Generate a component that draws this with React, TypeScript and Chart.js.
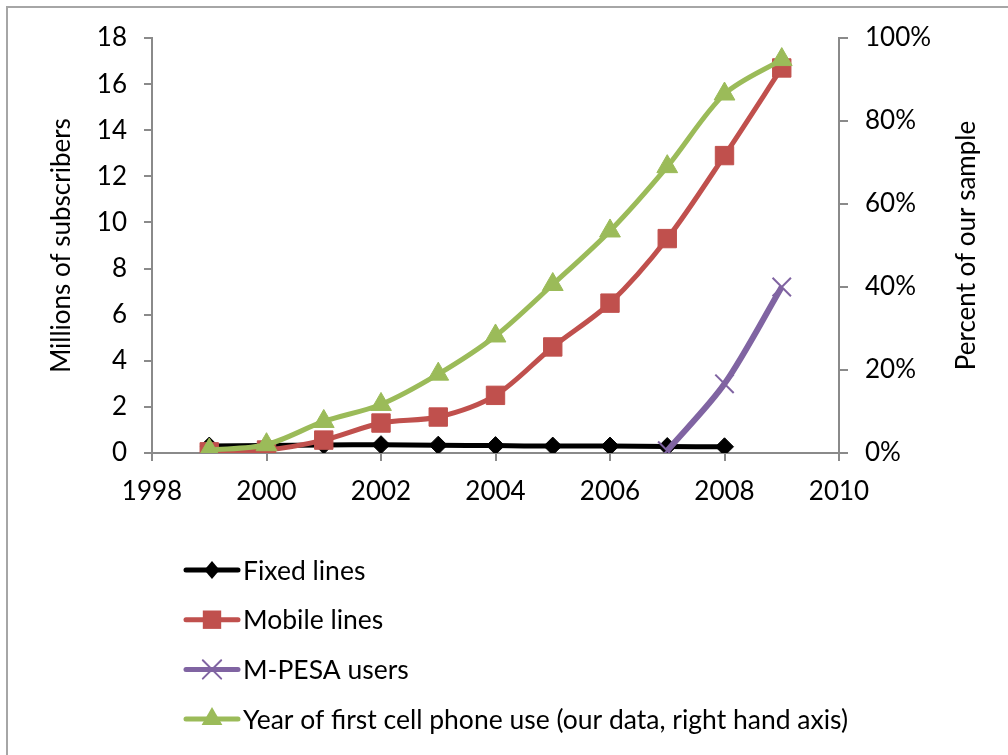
import React, { useEffect, useRef } from "react";
import { Chart, registerables } from "chart.js";

Chart.register(...registerables);

// ---- data ----
const fixedYears = [1999, 2000, 2001, 2002, 2003, 2004, 2005, 2006, 2007, 2008];
const fixedLines = [0.3, 0.32, 0.35, 0.36, 0.34, 0.32, 0.3, 0.3, 0.28, 0.27];

const mobileYears = [1999, 2000, 2001, 2002, 2003, 2004, 2005, 2006, 2007, 2008, 2009];
const mobileLines = [0.05, 0.13, 0.56, 1.3, 1.56, 2.5, 4.6, 6.5, 9.3, 12.9, 16.7];

const mpesaYears = [2007, 2008, 2009];
const mpesaUsers = [0.1, 3.0, 7.2];

const firstUseYears = [1999, 2000, 2001, 2002, 2003, 2004, 2005, 2006, 2007, 2008, 2009];
const firstUsePct = [0.7, 2, 7.6, 11.7, 19, 28.2, 40.6, 53.5, 69, 86.5, 94.8];

const seriesLabels = [
  "Fixed lines",
  "Mobile lines",
  "M-PESA users",
  "Year of first cell phone use (our data, right hand axis)",
];
const leftTitle = "Millions of subscribers";
const rightTitle = "Percent of our sample";

const FONT = "Lato";
const AXIS = "#8a8a8a";

function pts(xs: number[], ys: number[]) {
  return xs.map((x, i) => ({ x, y: ys[i] }));
}

function drawMarker(ctx: CanvasRenderingContext2D, style: string, x: number, y: number, r: number, fill: string, stroke: string) {
  ctx.save();
  ctx.fillStyle = fill;
  ctx.strokeStyle = stroke;
  ctx.beginPath();
  if (style === "rectRot") {
    ctx.moveTo(x, y - r);
    ctx.lineTo(x + r * 0.85, y);
    ctx.lineTo(x, y + r);
    ctx.lineTo(x - r * 0.85, y);
    ctx.closePath();
    ctx.fill();
  } else if (style === "rect") {
    const s = r * Math.SQRT1_2;
    ctx.rect(x - s, y - s, 2 * s, 2 * s);
    ctx.fill();
  } else if (style === "triangle") {
    ctx.moveTo(x, y - r);
    ctx.lineTo(x + r * 0.866, y + r * 0.5);
    ctx.lineTo(x - r * 0.866, y + r * 0.5);
    ctx.closePath();
    ctx.fill();
  } else if (style === "crossRot") {
    const d = r * Math.SQRT1_2;
    ctx.lineWidth = 2;
    ctx.moveTo(x - d, y - d);
    ctx.lineTo(x + d, y + d);
    ctx.moveTo(x + d, y - d);
    ctx.lineTo(x - d, y + d);
    ctx.stroke();
  }
  ctx.restore();
}

const decorPlugin = {
  id: "decor",
  beforeDraw(chart: any) {
    const ctx = chart.ctx as CanvasRenderingContext2D;
    ctx.save();
    ctx.fillStyle = "#ffffff";
    ctx.fillRect(0, 0, chart.width, chart.height);
    ctx.strokeStyle = "#a6a6a6";
    ctx.lineWidth = 2;
    ctx.beginPath();
    ctx.moveTo(7, chart.height + 5);
    ctx.lineTo(7, 7);
    ctx.lineTo(chart.width + 5, 7);
    ctx.stroke();
    ctx.restore();
  },
  afterDraw(chart: any) {
    const ctx = chart.ctx as CanvasRenderingContext2D;
    const area = chart.chartArea;
    const midY = (area.top + area.bottom) / 2;
    ctx.save();
    ctx.fillStyle = "#000";
    ctx.font = `26px ${FONT}`;
    ctx.textAlign = "center";
    ctx.textBaseline = "middle";
    // left title
    ctx.save();
    ctx.translate(62, midY);
    ctx.rotate(-Math.PI / 2);
    ctx.fillText(leftTitle, 0, 0);
    ctx.restore();
    // right title
    ctx.save();
    ctx.translate(967, midY);
    ctx.rotate(-Math.PI / 2);
    ctx.fillText(rightTitle, 0, 0);
    ctx.restore();

    // legend
    chart.data.datasets.forEach((ds: any, i: number) => {
      const y = 570 + i * 49.7;
      ctx.strokeStyle = ds.borderColor;
      ctx.lineWidth = 5;
      ctx.lineCap = "round";
      ctx.beginPath();
      ctx.moveTo(186, y);
      ctx.lineTo(238, y);
      ctx.stroke();
      drawMarker(ctx, ds.pointStyle, 212, y, ds.pointRadius, ds.pointBackgroundColor, ds.pointBorderColor);
      ctx.fillStyle = "#000";
      ctx.font = `26.5px ${FONT}`;
      ctx.textAlign = "left";
      ctx.textBaseline = "middle";
      ctx.fillText(ds.label, 243, y + 1);
    });
    ctx.restore();
  },
};

export default function App() {
  const ref = useRef<HTMLCanvasElement | null>(null);

  useEffect(() => {
    if (!ref.current) return;
    const tickFont = { family: FONT, size: 26 };
    const chart = new Chart(ref.current, {
      type: "line",
      data: {
        datasets: [
          {
            label: seriesLabels[0],
            data: pts(fixedYears, fixedLines),
            yAxisID: "y",
            borderColor: "#000000",
            backgroundColor: "#000000",
            pointBackgroundColor: "#000000",
            pointBorderColor: "#000000",
            pointStyle: "rectRot",
            pointRadius: 9,
            pointBorderWidth: 1,
            borderWidth: 5,
            tension: 0.3,
            order: 3,
          },
          {
            label: seriesLabels[1],
            data: pts(mobileYears, mobileLines),
            yAxisID: "y",
            borderColor: "#C0504D",
            backgroundColor: "#C0504D",
            pointBackgroundColor: "#C0504D",
            pointBorderColor: "#C0504D",
            pointStyle: "rect",
            pointRadius: 13,
            pointBorderWidth: 1,
            borderWidth: 5,
            tension: 0.3,
            order: 2,
          },
          {
            label: seriesLabels[2],
            data: pts(mpesaYears, mpesaUsers),
            yAxisID: "y",
            borderColor: "#8064A2",
            backgroundColor: "#8064A2",
            pointBackgroundColor: "#8064A2",
            pointBorderColor: "#8064A2",
            pointStyle: "crossRot",
            pointRadius: 13,
            pointBorderWidth: 2,
            borderWidth: 6,
            tension: 0.3,
            order: 1,
          },
          {
            label: seriesLabels[3],
            data: pts(firstUseYears, firstUsePct),
            yAxisID: "y2",
            borderColor: "#9BBB59",
            backgroundColor: "#9BBB59",
            pointBackgroundColor: "#9BBB59",
            pointBorderColor: "#9BBB59",
            pointStyle: "triangle",
            pointRadius: 12,
            pointBorderWidth: 1,
            borderWidth: 5,
            tension: 0.3,
            order: 0,
          },
        ],
      },
      options: {
        responsive: false,
        animation: false,
        devicePixelRatio: 1,
        layout: { padding: { top: 38, left: 0, right: 0, bottom: 0 } },
        plugins: { legend: { display: false }, tooltip: { enabled: false } },
        scales: {
          x: {
            type: "linear",
            min: 1998,
            max: 2010,
            afterFit: (s: any) => { s.height = 302; },
            ticks: { stepSize: 2, font: tickFont, color: "#000", padding: 15, maxRotation: 0, callback: (v: any) => String(v) },
            grid: { display: true, drawOnChartArea: false, drawTicks: true, tickLength: 8, color: AXIS, lineWidth: 2 },
            border: { display: true, color: AXIS, width: 2 },
          },
          y: {
            type: "linear",
            position: "left",
            min: 0,
            max: 18,
            afterFit: (s: any) => { s.width = 152; },
            ticks: { stepSize: 2, font: tickFont, color: "#000", padding: 17 },
            grid: { display: true, drawOnChartArea: false, drawTicks: true, tickLength: 8, color: AXIS, lineWidth: 2 },
            border: { display: true, color: AXIS, width: 2 },
          },
          y2: {
            type: "linear",
            position: "right",
            min: 0,
            max: 100,
            afterFit: (s: any) => { s.width = 169; },
            ticks: { stepSize: 20, font: tickFont, color: "#000", padding: 17, callback: (v: any) => `${v}%` },
            grid: { display: true, drawOnChartArea: false, drawTicks: true, tickLength: 9, color: AXIS, lineWidth: 2 },
            border: { display: true, color: AXIS, width: 2 },
          },
        },
      },
      plugins: [decorPlugin],
    } as any);
    return () => chart.destroy();
  }, []);

  return (
    <div style={{ position: "fixed", left: 0, top: 0, width: 1008, height: 755, overflow: "hidden", background: "#fff" }}>
      <canvas ref={ref} width={1008} height={755} style={{ display: "block", width: 1008, height: 755 }} />
    </div>
  );
}
